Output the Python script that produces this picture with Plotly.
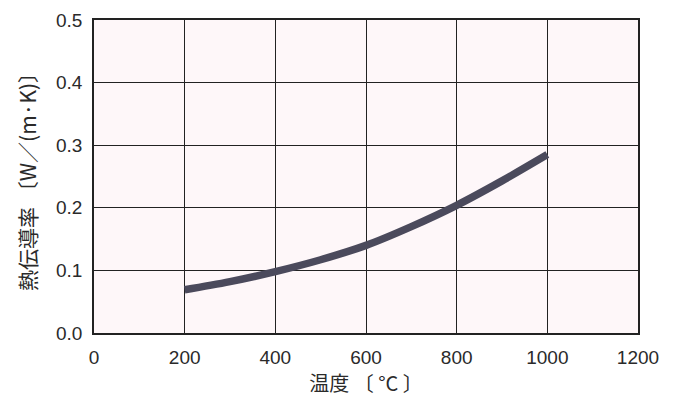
import plotly.graph_objects as go

temperature = [200, 300, 400, 500, 600, 700, 800, 900, 1000]
conductivity = [0.069, 0.082, 0.098, 0.117, 0.140, 0.170, 0.204, 0.243, 0.285]
x_ticks = [0, 200, 400, 600, 800, 1000, 1200]
y_ticks = [0.0, 0.1, 0.2, 0.3, 0.4, 0.5]

fig = go.Figure()
fig.add_trace(go.Scatter(
    x=temperature, y=conductivity, mode="lines",
    line=dict(color="#4b4a5c", width=7.5, shape="spline"),
    showlegend=False,
))

font_main = "Liberation Sans, Arial, Noto Sans CJK JP, sans-serif"
cjk = "Noto Sans CJK JP, sans-serif"
fig.update_layout(
    width=674, height=397,
    margin=dict(l=86, r=44, t=12, b=72),
    paper_bgcolor="white",
    plot_bgcolor="#fef7f9",
    font=dict(family=font_main, size=19, color="#2a2a2a"),
    xaxis=dict(
        range=[0, 1200], tickvals=x_ticks, ticktext=[str(v) for v in x_ticks],
        showgrid=True, gridcolor="#222", gridwidth=1,
        showline=True, linecolor="#222", linewidth=1.5, mirror=True,
        zeroline=False, ticks="outside", ticklen=6, tickcolor="rgba(0,0,0,0)",
        automargin=False,
        title=dict(text="温度 〔 °C 〕", font=dict(size=20, family=cjk), standoff=6),
    ),
    yaxis=dict(
        range=[0, 0.5], tickvals=y_ticks, ticktext=[f"{v:.1f}" for v in y_ticks],
        showgrid=True, gridcolor="#222", gridwidth=1,
        showline=True, linecolor="#222", linewidth=1.5, mirror=True,
        zeroline=False, ticks="outside", ticklen=6, tickcolor="rgba(0,0,0,0)",
        automargin=False,
        title=dict(text="熱伝導率 〔W／(m·K)〕", font=dict(size=21, family=cjk), standoff=14),
    ),
)

fig.write_html("out.html")
